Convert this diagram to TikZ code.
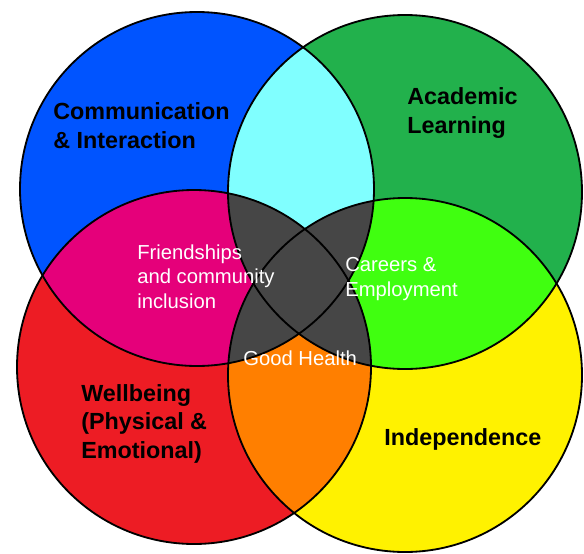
\documentclass[tikz,border=0pt]{standalone}
\usepackage{fontspec}
\setmainfont{Liberation Sans}
\usepackage{tikz}

\definecolor{commBlue}{RGB}{0,84,255}
\definecolor{acadGreen}{RGB}{34,177,76}
\definecolor{wellRed}{RGB}{237,28,36}
\definecolor{indepYellow}{RGB}{255,242,0}
\definecolor{mixCyan}{RGB}{128,255,255}
\definecolor{mixPink}{RGB}{229,0,122}
\definecolor{mixLime}{RGB}{64,255,16}
\definecolor{mixOrange}{RGB}{255,127,0}
\definecolor{mixDark}{RGB}{70,70,70}

\tikzset{
  area/.style={font=\bfseries\fontsize{16.6}{20}\selectfont, align=left, anchor=base west, inner sep=0pt},
  overlap/.style={font=\fontsize{14.4}{17.4}\selectfont, text=white, align=left, anchor=base west, inner sep=0pt},
}

\begin{document}
\begin{tikzpicture}[x=0.025cm, y=-0.025cm]
  \useasboundingbox (0,0) rectangle (584,553);
  \def\rad{177}

  \coordinate (C) at (197,189);
  \coordinate (A) at (405,192);
  \coordinate (W) at (194,367);
  \coordinate (I) at (405,375);

  % the four sets
  \fill[commBlue]    (C) circle (\rad);
  \fill[acadGreen]   (A) circle (\rad);
  \fill[wellRed]     (W) circle (\rad);
  \fill[indepYellow] (I) circle (\rad);

  % neighbouring overlaps
  \begin{scope}
    \clip (C) circle (\rad);
    \fill[mixCyan] (A) circle (\rad);
    \fill[mixPink] (W) circle (\rad);
  \end{scope}
  \begin{scope}
    \clip (I) circle (\rad);
    \fill[mixLime]   (A) circle (\rad);
    \fill[mixOrange] (W) circle (\rad);
  \end{scope}

  % diagonal overlaps make the middle
  \begin{scope}
    \clip (C) circle (\rad);
    \fill[mixDark] (I) circle (\rad);
  \end{scope}
  \begin{scope}
    \clip (A) circle (\rad);
    \fill[mixDark] (W) circle (\rad);
  \end{scope}

  \foreach \x in {(C), (A), (W), (I)}{
    \draw[line width=1.3pt] \x circle (\rad);
    };

  % labels sit on the baseline of their last line
  \node[area]    (comm)   at ( 53,148) {Communication\\\& Interaction};
  \node[area]    (acad)   at (407,133) {Academic\\Learning};
  \node[area]    (well)   at ( 81,458) {Wellbeing\\(Physical \&\\Emotional)};
  \node[area]    (indep)  at (384,445) {Independence};
  \node[overlap] (friend) at (137,308) {Friendships\\and community\\inclusion};
  \node[overlap] (career) at (345,296) {Careers \&\\Employment};
  \node[overlap] (health) at (243,365) {Good Health};
\end{tikzpicture}
\end{document}
